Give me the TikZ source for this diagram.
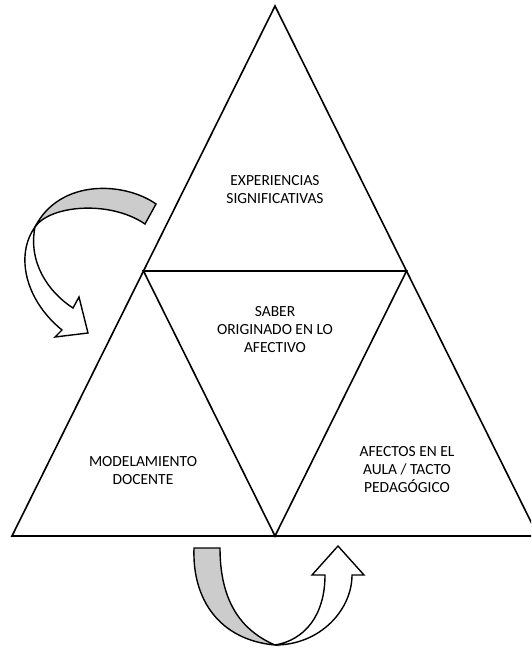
\documentclass[tikz,border=0pt]{standalone}
\usepackage{fontspec}
\setmainfont{Carlito}
\begin{document}
\begin{tikzpicture}[x=0.025cm,y=-0.025cm]
                \useasboundingbox (0,0) rectangle (531,648);
                \clip (0,0) rectangle (531,648);
                {\fontsize{11}{12.8}\selectfont

                % Changing color 204 204 204
                \definecolor{r204g204b204}{rgb}{0.800000,0.800000,0.800000}%

                % Drawing triangle apex: A left: L right: R
                \draw [line width=0.04cm, line join=miter] (275,6) -- (12,536) -- (538,536) -- cycle;%

                % Drawing inner triangle (midpoints)
                \draw [line width=0.04cm] (143.5,271) -- (406.5,271) -- (275,536) -- cycle;%

                % Curved arrow left, white part
                \filldraw [fill=white, line width=0.035cm, line join=miter] (35,227) .. controls (15,255) and (25,300) .. (62,330) -- (55,337) -- (88,333) -- (79,297) -- (73,308) .. controls (48,292) and (28,262) .. (35,227) -- cycle;%

                % Curved arrow left, gray part
                \filldraw [fill=r204g204b204, line width=0.035cm, line join=miter] (156,204) .. controls (125,182) and (60,178) .. (35,227) .. controls (50,205) and (110,200) .. (145,224) -- cycle;%

                % Curved arrow bottom, gray part
                \filldraw [fill=r204g204b204, line width=0.035cm, line join=miter] (194,548) .. controls (192,600) and (220,640) .. (275,645) .. controls (240,630) and (220,600) .. (220,548) -- cycle;%

                % Curved arrow bottom, white part
                \filldraw [fill=white, line width=0.035cm, line join=miter] (275,645) .. controls (320,645) and (352,610) .. (352,575) -- (364,575) -- (338,546) -- (312,575) -- (325,575) .. controls (325,615) and (305,640) .. (275,645) -- cycle;%

                % Marking text top
                \draw (275,190) node (expsig) [align=center] { EXPERIENCIAS\\SIGNIFICATIVAS };%

                % Marking text middle
                \draw (275,330) node (saber) [align=center] { SABER\\ORIGINADO EN LO\\AFECTIVO };%

                % Marking text left
                \draw (143,471) node (modelam) [align=center] { MODELAMIENTO\\DOCENTE };%

                % Marking text right
                \draw (407,470) node (afectos) [align=center] { AFECTOS EN EL\\AULA / TACTO\\PEDAGÓGICO };%
                }
            \end{tikzpicture}
\end{document}
